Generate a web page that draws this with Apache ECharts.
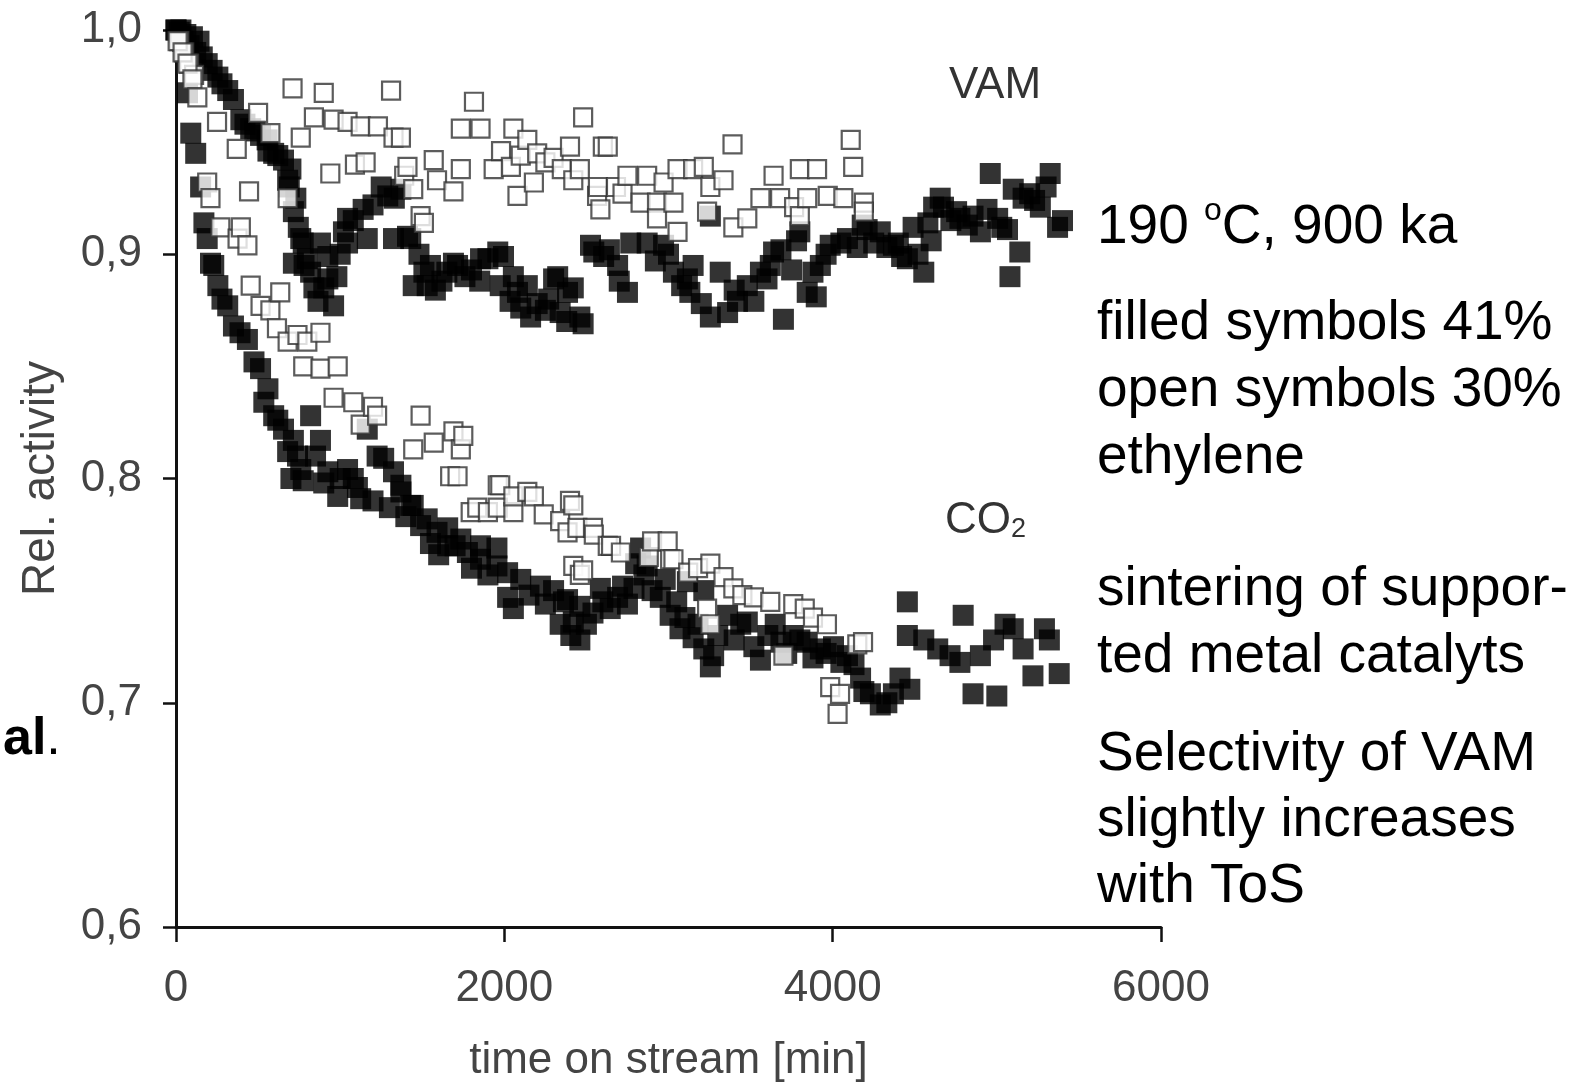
<!DOCTYPE html>
<html>
<head>
<meta charset="utf-8">
<script src="https://cdn.jsdelivr.net/npm/echarts@6/dist/echarts.min.js"></script>
<style>
  html, body { margin: 0; padding: 0; background: #fff; }
  #chart { width: 1589px; height: 1088px; }
</style>
</head>
<body>
<div id="chart"></div>
<script>
// Relative activity vs. time on stream, [min, rel. activity]
// VAM, filled symbols (41 % ethylene)
const vamFilled = [
  [0,1.0],[20,0.999],[30,1.0],[60,0.998],[80,0.993],[100,0.997],[120,0.990],[140,0.995],[160,0.988],
  [190,0.985],[220,0.982],[255,0.979],[280,0.976],[315,0.973],[350,0.969],[395,0.960],[420,0.958],
  [455,0.956],[480,0.955],[515,0.953],[555,0.951],[560,0.946],[595,0.945],[620,0.944],[655,0.942],
  [700,0.938],[680,0.933],[690,0.930],[730,0.925],[745,0.912],[715,0.919],[760,0.907],[775,0.905],
  [780,0.895],[800,0.898],[715,0.896],[820,0.892],[840,0.885],[865,0.879],[880,0.905],[900,0.885],
  [925,0.899],[925,0.889],[960,0.877],[980,0.890],[1000,0.900],[1020,0.910],[1045,0.916],[1045,0.905],
  [1080,0.915],[1140,0.920],[1165,0.907],[1200,0.922],[1250,0.930],[1290,0.926],[1325,0.907],[1330,0.925],
  [1370,0.929],[1410,0.908],[1430,0.907],[1445,0.886],[1480,0.900],[1510,0.892],[1530,0.886],[1550,0.895],
  [1580,0.884],[1620,0.888],[1650,0.892],[1690,0.896],[1715,0.895],[1760,0.890],[1800,0.893],[1850,0.888],
  [1855,0.898],[1900,0.898],[1960,0.901],[1975,0.886],[1995,0.899],[2035,0.879],[2055,0.890],[2080,0.883],
  [2100,0.876],[2140,0.886],[2160,0.872],[2200,0.878],[2250,0.875],[2270,0.880],[2300,0.889],[2325,0.890],
  [2340,0.874],[2380,0.870],[2385,0.883],[2420,0.885],[2460,0.872],[2480,0.869],[2525,0.904],[2545,0.901],
  [2605,0.899],[2640,0.902],[2690,0.895],[2700,0.888],[2750,0.883],[2770,0.905],[2870,0.905],[2920,0.897],
  [2970,0.904],[3000,0.900],[3030,0.892],[3080,0.886],[3115,0.889],[3130,0.883],[3150,0.895],[3200,0.878],
  [3255,0.917],[3255,0.872],[3315,0.892],[3360,0.874],[3400,0.884],[3420,0.879],[3480,0.886],[3520,0.879],
  [3560,0.892],[3600,0.889],[3620,0.895],[3640,0.901],[3685,0.902],[3700,0.871],[3750,0.893],[3780,0.906],
  [3800,0.910],[3845,0.883],[3880,0.892],[3900,0.881],[3925,0.895],[3960,0.900],[3985,0.904],[4050,0.905],
  [4090,0.907],[4150,0.903],[4180,0.913],[4210,0.911],[4250,0.905],[4290,0.910],[4330,0.903],[4370,0.904],
  [4400,0.905],[4420,0.899],[4455,0.898],[4490,0.912],[4520,0.900],[4555,0.892],[4580,0.914],[4600,0.906],
  [4615,0.921],[4655,0.925],[4675,0.921],[4720,0.915],[4755,0.919],[4775,0.916],[4820,0.913],[4855,0.917],
  [4900,0.910],[4940,0.920],[4960,0.936],[5005,0.916],[5030,0.912],[5065,0.911],[5080,0.890],[5100,0.929],
  [5140,0.901],[5160,0.925],[5200,0.927],[5230,0.924],[5265,0.921],[5300,0.930],[5325,0.936],[5370,0.912],
  [5400,0.915]
];
// VAM, open symbols (30 % ethylene)
const vamOpen = [
  [20,0.995],[50,0.990],[80,0.985],[110,0.980],[190,0.932],[210,0.925],[250,0.959],[370,0.947],[445,0.928],
  [500,0.963],[575,0.954],[680,0.925],[710,0.974],[760,0.952],[840,0.961],[900,0.972],[940,0.936],[960,0.960],
  [1045,0.959],[1090,0.940],[1125,0.957],[1155,0.941],[1230,0.957],[1310,0.973],[1325,0.952],[1370,0.952],
  [1390,0.935],[1410,0.939],[1445,0.929],[1490,0.917],[1510,0.914],[1570,0.942],[1590,0.933],[1690,0.928],
  [1735,0.956],[1735,0.938],[1815,0.968],[1855,0.956],[1935,0.938],[1980,0.946],[2040,0.939],[2055,0.956],
  [2080,0.926],[2100,0.944],[2140,0.951],[2180,0.932],[2200,0.945],[2250,0.941],[2300,0.943],[2350,0.938],
  [2400,0.948],[2420,0.933],[2460,0.938],[2480,0.961],[2565,0.926],[2570,0.930],[2585,0.920],[2600,0.948],
  [2630,0.948],[2680,0.930],[2720,0.927],[2750,0.935],[2830,0.923],[2870,0.935],[2930,0.923],[2930,0.916],
  [2970,0.932],[3030,0.923],[3055,0.938],[3055,0.910],[3150,0.938],[3215,0.939],[3235,0.919],[3255,0.930],
  [3335,0.933],[3390,0.949],[3395,0.912],[3480,0.916],[3560,0.925],[3640,0.935],[3680,0.925],[3765,0.921],
  [3800,0.938],[3800,0.917],[3845,0.925],[3905,0.938],[3970,0.926],[4065,0.925],[4110,0.951],[4125,0.939],
  [4190,0.923],[4190,0.919]
];
// CO2, filled symbols (41 % ethylene)
const co2Filled = [
  [0,1.0],[40,0.995],[70,0.972],[90,0.954],[120,0.945],[150,0.930],[170,0.914],[190,0.907],[210,0.896],
  [230,0.895],[255,0.886],[280,0.880],[315,0.877],[350,0.868],[390,0.865],[435,0.862],[475,0.852],[515,0.849],
  [535,0.834],[560,0.840],[595,0.828],[620,0.826],[655,0.822],[680,0.812],[700,0.800],[715,0.817],[740,0.810],
  [760,0.804],[775,0.799],[820,0.828],[850,0.810],[880,0.817],[900,0.798],[925,0.803],[985,0.792],[1000,0.800],
  [1045,0.804],[1080,0.800],[1105,0.796],[1125,0.791],[1165,0.822],[1200,0.790],[1225,0.810],[1265,0.809],
  [1300,0.787],[1325,0.803],[1370,0.794],[1370,0.797],[1400,0.783],[1430,0.788],[1445,0.788],[1490,0.779],
  [1530,0.782],[1550,0.771],[1590,0.776],[1600,0.766],[1655,0.770],[1655,0.778],[1700,0.770],[1735,0.773],
  [1775,0.767],[1800,0.760],[1855,0.764],[1855,0.770],[1900,0.757],[1955,0.761],[1955,0.769],[2020,0.758],
  [2020,0.747],[2055,0.742],[2100,0.755],[2150,0.748],[2220,0.752],[2250,0.744],[2300,0.750],[2340,0.735],
  [2360,0.745],[2385,0.746],[2405,0.730],[2420,0.736],[2460,0.728],[2460,0.743],[2500,0.735],[2540,0.740],
  [2585,0.751],[2600,0.745],[2645,0.742],[2690,0.747],[2720,0.752],[2750,0.744],[2790,0.751],[2800,0.762],
  [2830,0.769],[2850,0.757],[2870,0.761],[2900,0.750],[2950,0.747],[2980,0.755],[3010,0.739],[3050,0.745],
  [3070,0.733],[3100,0.738],[3115,0.754],[3150,0.729],[3180,0.735],[3215,0.724],[3215,0.750],[3255,0.716],
  [3275,0.721],[3300,0.730],[3360,0.739],[3400,0.728],[3440,0.735],[3480,0.736],[3520,0.725],[3560,0.719],
  [3605,0.730],[3650,0.735],[3685,0.727],[3720,0.722],[3760,0.730],[3800,0.728],[3845,0.727],[3880,0.720],
  [3925,0.724],[3960,0.722],[4005,0.725],[4050,0.718],[4090,0.721],[4130,0.717],[4170,0.711],[4190,0.705],
  [4230,0.704],[4290,0.699],[4330,0.700],[4370,0.704],[4410,0.711],[4455,0.745],[4455,0.730],[4470,0.706],
  [4555,0.728],[4640,0.724],[4715,0.721],[4775,0.718],[4795,0.739],[4855,0.704],[4900,0.721],[4980,0.728],
  [5000,0.703],[5050,0.735],[5100,0.733],[5160,0.724],[5220,0.712],[5290,0.733],[5320,0.728],[5380,0.713]
];
// CO2, open symbols (30 % ethylene)
const co2Open = [
  [10,0.995],[40,0.990],[70,0.985],[100,0.978],[130,0.970],[270,0.912],[375,0.907],[395,0.912],[435,0.904],
  [455,0.886],[515,0.877],[575,0.875],[615,0.867],[635,0.883],[680,0.861],[740,0.864],[775,0.850],[800,0.861],
  [880,0.865],[880,0.849],[960,0.836],[985,0.850],[1080,0.834],[1125,0.824],[1200,0.832],[1225,0.828],
  [1445,0.813],[1490,0.828],[1570,0.816],[1670,0.801],[1690,0.821],[1715,0.801],[1735,0.813],[1750,0.819],
  [1795,0.785],[1835,0.787],[1900,0.785],[1960,0.787],[1960,0.797],[1975,0.797],[2055,0.785],[2055,0.792],
  [2140,0.794],[2180,0.792],[2240,0.784],[2340,0.781],[2385,0.776],[2400,0.790],[2420,0.788],[2420,0.761],
  [2445,0.778],[2460,0.757],[2480,0.759],[2540,0.778],[2545,0.775],[2630,0.770],[2650,0.770],[2710,0.767],
  [2880,0.765],[2900,0.772],[2995,0.772],[3010,0.764],[3030,0.764],[3120,0.758],[3180,0.760],[3235,0.742],
  [3255,0.735],[3255,0.762],[3335,0.756],[3395,0.751],[3450,0.748],[3520,0.747],[3620,0.745],[3700,0.721],
  [3760,0.744],[3830,0.742],[3880,0.738],[3965,0.735],[3985,0.707],[4030,0.695],[4045,0.704],[4150,0.726],
  [4185,0.727]
];

// Text blocks on the right-hand side
const noteLines = [
  '{n|190 }{s|o}{n|C, 900 ka}',
  'filled symbols 41%',
  'open symbols 30%',
  'ethylene',
  'sintering of suppor-',
  'ted metal catalyts',
  'Selectivity of VAM',
  'slightly increases',
  'with ToS'
];
const noteY = [225, 324, 391, 458, 590, 657, 755, 821, 887];

const axisFont = '"Liberation Sans", Arial, sans-serif';
const noteFont = '"Liberation Sans", Arial, sans-serif';
const axisGray = '#444';

const chart = echarts.init(document.getElementById('chart'), null, { renderer: 'canvas' });

const filledStyle = { color: '#000' };
const openStyle = { color: '#fff', borderColor: '#333', borderWidth: 2.2 };

const option = {
  animation: false,
  backgroundColor: '#fff',
  grid: { left: 176, right: 428, top: 30, bottom: 147, containLabel: false },
  xAxis: {
    type: 'value', min: 0, max: 6000, interval: 2000,
    name: 'time on stream [min]', nameLocation: 'middle', nameGap: 112,
    nameTextStyle: { fontFamily: axisFont, fontSize: 44, color: axisGray },
    axisLine: { show: true, onZero: false, lineStyle: { color: '#111', width: 3 } },
    axisTick: { show: true, length: 15, lineStyle: { color: '#111', width: 2.5 } },
    axisLabel: { margin: 40, fontFamily: axisFont, fontSize: 44, color: axisGray, formatter: v => String(v) },
    splitLine: { show: false }
  },
  yAxis: {
    type: 'value', min: 0.6, max: 1.0, interval: 0.1,
    name: 'Rel. activity', nameLocation: 'middle', nameGap: 112, nameRotate: 90,
    nameTextStyle: { fontFamily: axisFont, fontSize: 46, color: axisGray },
    axisLine: { show: true, onZero: false, lineStyle: { color: '#111', width: 3 } },
    axisTick: { show: true, length: 13, lineStyle: { color: '#111', width: 2.5 } },
    axisLabel: {
      margin: 34, fontFamily: axisFont, fontSize: 44, color: axisGray,
      formatter: v => v.toFixed(1).replace('.', ',')
    },
    splitLine: { show: false }
  },
  series: [
    { name: 'VAM filled', type: 'scatter', symbol: 'rect', symbolSize: 21, data: vamFilled, itemStyle: filledStyle, z: 2 },
    { name: 'CO2 filled', type: 'scatter', symbol: 'rect', symbolSize: 21, data: co2Filled, itemStyle: filledStyle, z: 2 },
    { name: 'VAM open', type: 'scatter', symbol: 'rect', symbolSize: 18, data: vamOpen, itemStyle: openStyle, z: 3 },
    { name: 'CO2 open', type: 'scatter', symbol: 'rect', symbolSize: 18, data: co2Open, itemStyle: openStyle, z: 3 }
  ],
  graphic: [
    {
      type: 'text', x: 995, y: 86, z: 10,
      style: { text: 'VAM', font: '44px ' + axisFont, fill: '#333', align: 'center', verticalAlign: 'middle',
               textAlign: 'center', textVerticalAlign: 'middle' }
    },
    {
      type: 'text', x: 945, y: 520, z: 10,
      style: {
        text: '{c|CO}{d|2}', align: 'left', verticalAlign: 'middle', textAlign: 'left', textVerticalAlign: 'middle',
        rich: {
          c: { fontFamily: axisFont, fontSize: 44, fill: '#333', color: '#333', verticalAlign: 'bottom', lineHeight: 46 },
          d: { fontFamily: axisFont, fontSize: 27, fill: '#333', color: '#333', verticalAlign: 'bottom', lineHeight: 38 }
        }
      }
    },
    {
      type: 'text', x: 3, y: 740, z: 10,
      style: {
        text: '{b|al}{p|.}', align: 'left', verticalAlign: 'middle', textAlign: 'left', textVerticalAlign: 'middle',
        rich: {
          b: { fontFamily: noteFont, fontSize: 52, fontWeight: 'bold', fill: '#000', color: '#000' },
          p: { fontFamily: noteFont, fontSize: 52, fill: '#000', color: '#000' }
        }
      }
    }
  ].concat(noteLines.map((t, i) => ({
    type: 'text', x: 1097, y: noteY[i], z: 10,
    style: {
      text: t, align: 'left', verticalAlign: 'middle', textAlign: 'left', textVerticalAlign: 'middle',
      font: '55px ' + noteFont, fill: '#000',
      rich: {
        n: { fontFamily: noteFont, fontSize: 55, fill: '#000', color: '#000', verticalAlign: 'bottom', lineHeight: 60 },
        s: { fontFamily: noteFont, fontSize: 32, fill: '#000', color: '#000', verticalAlign: 'top', lineHeight: 60 }
      }
    }
  })))
};

chart.setOption(option);
</script>
</body>
</html>
